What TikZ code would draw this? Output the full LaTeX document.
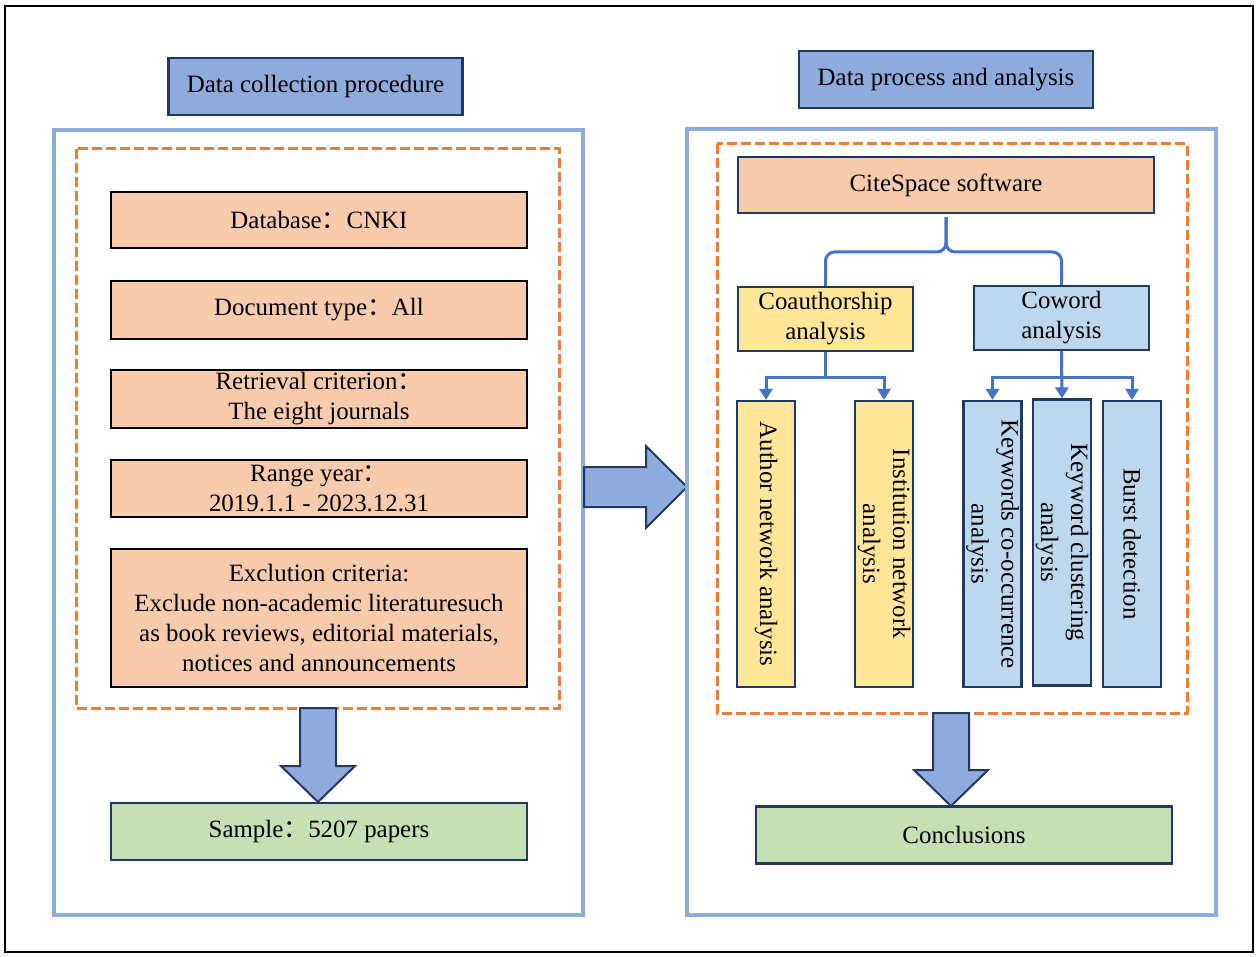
\documentclass[tikz,border=0pt]{standalone}
\usepackage{fontspec}
\setmainfont{Liberation Serif}
\newfontfamily\cjkfont{Noto Sans CJK SC}
\usepackage{xcolor}
\usetikzlibrary{arrows.meta,positioning}

\definecolor{headblue}{HTML}{8FAADC}
\definecolor{edgenavy}{HTML}{203864}
\definecolor{dashorange}{HTML}{ED7D31}
\definecolor{peach}{HTML}{F8CBAD}
\definecolor{paleyellow}{HTML}{FFE699}
\definecolor{paleblue}{HTML}{BDD7EE}
\definecolor{palegreen}{HTML}{C5E0B4}
\definecolor{linkblue}{HTML}{4472C4}
\newcommand{\wcolon}{{\cjkfont ：}}

\tikzset{
  basebox/.style={draw, inner sep=0pt, align=center, line width=2.2pt,
    font=\fontsize{24.9pt}{30pt}\selectfont},
  headbox/.style={basebox, fill=headblue, draw=edgenavy, minimum width=294pt, minimum height=57pt},
  itembox/.style={basebox, fill=peach, draw=black, minimum width=416pt},
  resultbox/.style={basebox, fill=palegreen, draw=edgenavy, minimum width=416pt, minimum height=57pt},
  groupbox/.style={basebox, draw=edgenavy, minimum width=175pt, minimum height=64pt},
  tallbox/.style={basebox, draw=edgenavy, rotate=-90, minimum width=286pt, minimum height=58pt},
  frame/.style={draw=headblue, line width=4.5pt},
  dashframe/.style={draw=dashorange, line width=3pt, dash pattern=on 10pt off 4pt},
  link/.style={draw=linkblue, line width=3pt},
  linkarrow/.style={link, -{Triangle[width=13pt,length=11pt]}},
  fatarrow/.style={fill=headblue, draw=edgenavy, line width=2pt, line join=miter}
}

\begin{document}
\begin{tikzpicture}[x=1pt,y=-1pt]
    \useasboundingbox (0,0) rectangle (1257,957);
    \draw[line width=2pt] (5,6) rectangle (1253,952);

    % left column
    \draw[frame] (54,130) rectangle (583,915);
    \draw[dashframe] (76,149) rectangle (559,708);
    \node[headbox] (coltitle) at (315.5,86.5) {Data collection procedure};
    \node[itembox, minimum height=56pt] (database) at (319,220) {Database\wcolon CNKI};
    \node[itembox, minimum height=58pt] (doctype) at (319,310) {Document type\wcolon All};
    \node[itembox, minimum height=58pt] (retrieval) at (319,399) {Retrieval criterion\wcolon\\The eight journals};
    \node[itembox, minimum height=57pt] (rangeyear) at (319,488.5) {Range year\wcolon\\2019.1.1 - 2023.12.31};
    \node[itembox, minimum height=138pt] (exclusion) at (319,618) {Exclution criteria:\\Exclude non-academic literaturesuch\\as book reviews, editorial materials,\\notices and announcements};
    \node[resultbox] (sample) at (319,831.5) {Sample\wcolon 5207 papers};
    \draw[fatarrow] (300,708) -- (336,708) -- (336,766) -- (355,766) -- (318,802) -- (281,766) -- (300,766) -- cycle;

    % middle arrow
    \draw[fatarrow] (584,467) -- (646,467) -- (646,446) -- (687,487) -- (646,528) -- (646,507) -- (584,507) -- cycle;

    % right column
    \draw[frame] (687,129) rectangle (1216,915);
    \draw[dashframe] (717,144) rectangle (1187,713);
    \node[headbox] (protitle) at (946,79.5) {Data process and analysis};
    \node[itembox, draw=edgenavy, minimum height=56pt] (citespace) at (946,185) {CiteSpace software};
    \node[groupbox, fill=paleyellow] (coauthor) at (825.5,319) {Coauthorship\\analysis};
    \node[groupbox, fill=paleblue] (coword) at (1061.5,318) {Coword\\analysis};
    \node[tallbox, fill=paleyellow] (author) at (766,544) {Author network analysis};
    \node[tallbox, fill=paleyellow] (institution) at (884,544) {Institution network\\analysis};
    \node[tallbox, fill=paleblue] (cooccur) at (992.5,544) {Keywords co-occurrence\\analysis};
    \node[tallbox, fill=paleblue] (cluster) at (1062,542.5) {Keyword clustering\\analysis};
    \node[tallbox, fill=paleblue] (burst) at (1132,544) {Burst detection};
    \node[resultbox] (conclusion) at (964,835) {Conclusions};
    \draw[fatarrow] (933,713) -- (969,713) -- (969,770) -- (988,770) -- (951,806) -- (914,770) -- (933,770) -- cycle;

    % brace and links
    \draw[link, rounded corners=9pt] ([yshift=-3pt]citespace.south) -- (946,252) -| (coauthor.north);
    \draw[link, rounded corners=9pt] ([yshift=-3pt]citespace.south) -- (946,252) -| (coword.north);
    \draw[linkarrow] (coauthor.south) -- ++(0,25) -| (author.west);
    \draw[linkarrow] (coauthor.south) -- ++(0,25) -| (institution.west);
    \draw[linkarrow] (coword.south) -- ++(0,26) -| (cooccur.west);
    \draw[linkarrow] (coword.south) -- (cluster.west);
    \draw[linkarrow] (coword.south) -- ++(0,26) -| (burst.west);
\end{tikzpicture}
\end{document}
